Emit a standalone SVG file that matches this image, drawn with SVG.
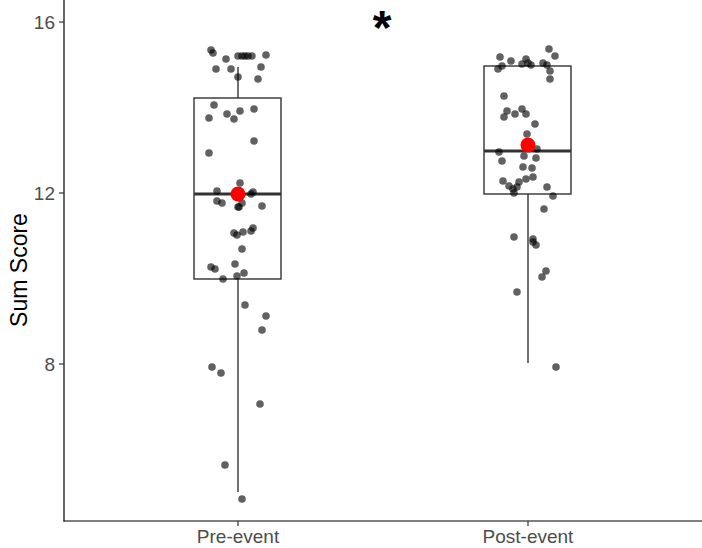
<svg xmlns="http://www.w3.org/2000/svg" width="702" height="548" viewBox="0 0 702 548">
<style>
.d{fill:#000;fill-opacity:.62}
.bx{fill:#fff;stroke:#333;stroke-width:1.4}
.ln{stroke:#333;stroke-width:1.4}
.md{stroke:#333;stroke-width:3}
.t{font-family:"Liberation Sans",Arial,sans-serif;font-size:19px;fill:#4d4d4d}
</style>
<rect width="702" height="548" fill="#fff"/>
<g id="axes">
<line x1="64" y1="0" x2="64" y2="521.5" stroke="#000" stroke-width="1.2"/>
<line x1="63.5" y1="521" x2="702" y2="521" stroke="#000" stroke-width="1.2"/>
<g stroke="#333" stroke-width="1.2"><line x1="59" y1="22" x2="64" y2="22"/><line x1="59" y1="193" x2="64" y2="193"/><line x1="59" y1="364" x2="64" y2="364"/><line x1="238" y1="521" x2="238" y2="526"/><line x1="528" y1="521" x2="528" y2="526"/></g>
<text class="t" x="55" y="29" text-anchor="end">16</text>
<text class="t" x="55" y="200" text-anchor="end">12</text>
<text class="t" x="55" y="371" text-anchor="end">8</text>
<text class="t" x="238" y="543" text-anchor="middle">Pre-event</text>
<text class="t" x="528" y="543" text-anchor="middle">Post-event</text>
<text x="27" y="270" transform="rotate(-90 27 270)" text-anchor="middle" font-family="Liberation Sans,Arial,sans-serif" font-size="23" fill="#000">Sum Score</text>
<text x="382" y="44" text-anchor="middle" font-family="Liberation Sans,Arial,sans-serif" font-size="48" font-weight="bold" fill="#000">*</text>
</g>
<g id="pre">
<line class="ln" x1="238" y1="67" x2="238" y2="98"/><line class="ln" x1="238" y1="279" x2="238" y2="492"/>
<rect class="bx" x="194" y="98" width="87" height="181"/>
<line class="md" x1="194" y1="194" x2="281" y2="194"/>
<g class="d">
<circle cx="211" cy="50" r="3.8"/><circle cx="213" cy="53" r="3.8"/><circle cx="226" cy="59" r="3.8"/><circle cx="238" cy="56" r="3.8"/><circle cx="242" cy="56" r="3.8"/><circle cx="245" cy="56" r="3.8"/><circle cx="248" cy="56" r="3.8"/><circle cx="252" cy="56" r="3.8"/><circle cx="266" cy="55" r="3.8"/><circle cx="216" cy="69" r="3.8"/><circle cx="231" cy="69" r="3.8"/><circle cx="261" cy="67" r="3.8"/><circle cx="238" cy="77" r="3.8"/><circle cx="258" cy="79" r="3.8"/>
<circle cx="214" cy="105" r="3.8"/><circle cx="227" cy="114" r="3.8"/><circle cx="240" cy="111" r="3.8"/><circle cx="254" cy="109" r="3.8"/><circle cx="209" cy="118" r="3.8"/><circle cx="234" cy="119" r="3.8"/><circle cx="254" cy="141" r="3.8"/><circle cx="209" cy="153" r="3.8"/>
<circle cx="240" cy="183" r="3.8"/><circle cx="217" cy="191" r="3.8"/><circle cx="253" cy="192" r="3.8"/><circle cx="251" cy="194" r="3.8"/><circle cx="217" cy="201" r="3.8"/><circle cx="222" cy="203" r="3.8"/><circle cx="242" cy="203" r="3.8"/><circle cx="238" cy="207" r="3.8"/><circle cx="239" cy="207" r="3.8"/><circle cx="262" cy="206" r="3.8"/>
<circle cx="234" cy="233" r="3.8"/><circle cx="237" cy="235" r="3.8"/><circle cx="243" cy="232" r="3.8"/><circle cx="251" cy="231" r="3.8"/><circle cx="253" cy="228" r="3.8"/><circle cx="242" cy="249" r="3.8"/><circle cx="211" cy="267" r="3.8"/><circle cx="215" cy="269" r="3.8"/><circle cx="235" cy="264" r="3.8"/><circle cx="244" cy="273" r="3.8"/><circle cx="223" cy="279" r="3.8"/><circle cx="237" cy="276" r="3.8"/>
<circle cx="245" cy="305" r="3.8"/><circle cx="266" cy="316" r="3.8"/><circle cx="262" cy="330" r="3.8"/><circle cx="212" cy="367" r="3.8"/><circle cx="221" cy="373" r="3.8"/><circle cx="260" cy="404" r="3.8"/><circle cx="225" cy="465" r="3.8"/><circle cx="242" cy="499" r="3.8"/>
</g>
<circle cx="238" cy="194" r="7.5" fill="#ff0000"/>
</g>
<g id="post">
<line class="ln" x1="528" y1="194" x2="528" y2="363"/>
<rect class="bx" x="484" y="66" width="87" height="128"/>
<line class="md" x1="484" y1="151" x2="571" y2="151"/>
<g class="d">
<circle cx="549" cy="49" r="3.8"/><circle cx="555" cy="56" r="3.8"/><circle cx="500" cy="57" r="3.8"/><circle cx="511" cy="61" r="3.8"/><circle cx="526" cy="59" r="3.8"/><circle cx="522" cy="64" r="3.8"/><circle cx="528" cy="63" r="3.8"/><circle cx="531" cy="65" r="3.8"/><circle cx="543" cy="63" r="3.8"/><circle cx="547" cy="65" r="3.8"/><circle cx="502" cy="66" r="3.8"/><circle cx="498" cy="69" r="3.8"/><circle cx="550" cy="71" r="3.8"/><circle cx="550" cy="79" r="3.8"/>
<circle cx="504" cy="96" r="3.8"/><circle cx="507" cy="111" r="3.8"/><circle cx="522" cy="109" r="3.8"/><circle cx="504" cy="117" r="3.8"/><circle cx="515" cy="114" r="3.8"/><circle cx="526" cy="114" r="3.8"/><circle cx="535" cy="124" r="3.8"/><circle cx="527" cy="134" r="3.8"/><circle cx="537" cy="149" r="3.8"/><circle cx="499" cy="152" r="3.8"/><circle cx="524" cy="156" r="3.8"/><circle cx="536" cy="158" r="3.8"/><circle cx="502" cy="161" r="3.8"/><circle cx="523" cy="167" r="3.8"/><circle cx="532" cy="168" r="3.8"/>
<circle cx="503" cy="181" r="3.8"/><circle cx="509" cy="186" r="3.8"/><circle cx="513" cy="189" r="3.8"/><circle cx="517" cy="187" r="3.8"/><circle cx="519" cy="182" r="3.8"/><circle cx="526" cy="179" r="3.8"/><circle cx="533" cy="177" r="3.8"/><circle cx="514" cy="193" r="3.8"/><circle cx="547" cy="187" r="3.8"/><circle cx="553" cy="196" r="3.8"/><circle cx="544" cy="209" r="3.8"/>
<circle cx="514" cy="237" r="3.8"/><circle cx="533" cy="239" r="3.8"/><circle cx="533" cy="242" r="3.8"/><circle cx="536" cy="245" r="3.8"/><circle cx="546" cy="271" r="3.8"/><circle cx="542" cy="277" r="3.8"/><circle cx="517" cy="292" r="3.8"/><circle cx="556" cy="367" r="3.8"/>
</g>
<circle cx="528" cy="145" r="7.5" fill="#ff0000"/>
</g>
</svg>
